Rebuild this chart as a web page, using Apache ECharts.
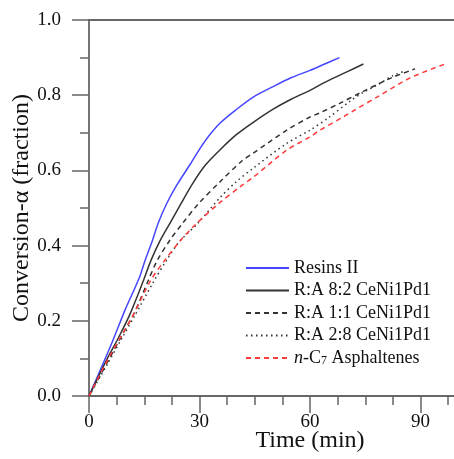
<!DOCTYPE html>
<html>
<head>
<meta charset="utf-8">
<script src="https://cdn.jsdelivr.net/npm/echarts@6/dist/echarts.min.js"></script>
<style>
html,body{margin:0;padding:0;background:#fff;}
#chart{width:454px;height:459px;}
</style>
</head>
<body>
<div id="chart"></div>
<script>
// ---- data ----
const seriesNames = ['Resins II', 'R:A 8:2 CeNi1Pd1', 'R:A 1:1 CeNi1Pd1', 'R:A 2:8 CeNi1Pd1', 'n-C7 Asphaltenes'];

const timeResins = [0, 6.2, 9.8, 13.6, 15.2, 17.2, 18.8, 21, 23.9, 27.4, 29.6, 32, 35.6, 40, 44.6, 50, 55, 60, 64, 68];
const convResins = [0, 0.141, 0.229, 0.313, 0.36, 0.413, 0.46, 0.51, 0.562, 0.615, 0.65, 0.685, 0.726, 0.762, 0.795, 0.823, 0.847, 0.866, 0.883, 0.90];

const timeRA82 = [0, 5, 8, 11, 14.7, 16.8, 19.3, 22, 25, 28, 31.5, 35.6, 40, 44.6, 50, 55, 60, 64, 70, 74.5];
const convRA82 = [0, 0.1, 0.155, 0.215, 0.305, 0.36, 0.413, 0.46, 0.512, 0.563, 0.613, 0.655, 0.695, 0.728, 0.763, 0.79, 0.813, 0.834, 0.862, 0.883];

const timeRA11 = [0, 5, 10, 12.5, 16, 18.5, 22, 25.3, 29.6, 35.6, 41.5, 44.6, 53.7, 60, 62.7, 68.2, 73.6, 79, 82.5, 88.5];
const convRA11 = [0, 0.09, 0.18, 0.225, 0.305, 0.36, 0.415, 0.458, 0.51, 0.57, 0.625, 0.646, 0.707, 0.742, 0.753, 0.779, 0.806, 0.832, 0.848, 0.87];

const timeRA28 = [0, 5, 9, 12.5, 17.3, 21, 24.5, 29.6, 35.6, 40, 44.6, 53.7, 60, 65, 71, 74.4, 78.2, 82.5, 86];
const convRA28 = [0, 0.085, 0.155, 0.215, 0.3, 0.36, 0.41, 0.46, 0.528, 0.57, 0.606, 0.672, 0.707, 0.74, 0.785, 0.807, 0.827, 0.852, 0.865];

const timeC7 = [0, 5, 11.7, 16.6, 20.5, 24.7, 28.8, 35, 41.5, 44.6, 53.7, 60, 62.7, 69, 71.7, 78.2, 87.2, 96.7];
const convC7 = [0, 0.095, 0.21, 0.305, 0.36, 0.412, 0.455, 0.51, 0.56, 0.582, 0.654, 0.689, 0.707, 0.742, 0.758, 0.795, 0.846, 0.883];

const xTicks = [0, 30, 60, 90];
const yTicks = ['0.0', '0.2', '0.4', '0.6', '0.8', '1.0'];

// ---- chart ----
const pair = (t, v) => t.map((x, i) => [x, v[i]]);
const FONT = 'Liberation Serif';
const AX = '#666';

const chart = echarts.init(document.getElementById('chart'), null, {renderer: 'canvas'});

function mkLine(name, t, v, color, type) {
  return {
    name: name, type: 'line', data: pair(t, v), symbol: 'none',
    smooth: 0.3,
    xAxisIndex: 0, yAxisIndex: 0,
    lineStyle: {color: color, width: 1.5, type: type},
    itemStyle: {color: color}
  };
}

const option = {
  animation: false,
  backgroundColor: '#fff',
  grid: {left: 89, top: 20, right: -77, bottom: 63, containLabel: false, outerBoundsMode: 'none'},
  legend: {
    orient: 'vertical', left: 245, top: 258, padding: 0,
    itemWidth: 43, itemHeight: 14, itemGap: 2.5,
    data: seriesNames,
    itemStyle: {opacity: 0},
    textStyle: {
      fontFamily: FONT, fontSize: 18, color: '#111', lineHeight: 20,
      rich: {
        i: {fontFamily: FONT, fontSize: 18, fontStyle: 'italic', color: '#111'},
        s: {fontFamily: FONT, fontSize: 12, color: '#111', padding: [6, 0, 0, 0]}
      }
    },
    formatter: function (n) {
      if (n === 'n-C7 Asphaltenes') return '{i|n}-C{s|7} Asphaltenes';
      return n;
    }
  },
  xAxis: [{
    type: 'value', min: 0, max: 120, interval: 30, position: 'bottom',
    name: 'Time (min)', nameLocation: 'middle', nameGap: 33, nameMoveOverlap: false,
    nameTextStyle: {fontFamily: FONT, fontSize: 24, color: '#111'},
    axisLine: {show: true, onZero: false, lineStyle: {color: AX, width: 1.8}},
    axisTick: {show: true, inside: false, length: 17, lineStyle: {color: AX, width: 1.5}},
    minorTick: {show: true, splitNumber: 4, length: 9, lineStyle: {color: AX, width: 1.5}},
    axisLabel: {
      fontFamily: FONT, fontSize: 19, color: '#111', margin: 17, showMaxLabel: false,
      formatter: v => (xTicks.indexOf(v) >= 0 ? String(v) : '')
    },
    splitLine: {show: false}
  }, {
    type: 'value', min: 0, max: 120, position: 'top',
    axisLine: {show: true, onZero: false, lineStyle: {color: AX, width: 1.8}},
    axisTick: {show: false}, axisLabel: {show: false}, splitLine: {show: false}
  }],
  yAxis: {
    type: 'value', min: 0, max: 1, interval: 0.2,
    name: 'Conversion-α (fraction)', nameLocation: 'middle', nameGap: 55, nameMoveOverlap: false,
    nameTextStyle: {fontFamily: FONT, fontSize: 24, color: '#111'},
    axisLine: {show: true, onZero: false, lineStyle: {color: AX, width: 1.8}},
    axisTick: {show: true, inside: false, length: 17, lineStyle: {color: AX, width: 1.5}},
    minorTick: {show: true, splitNumber: 2, length: 9, lineStyle: {color: AX, width: 1.5}},
    axisLabel: {
      fontFamily: FONT, fontSize: 19, color: '#111', margin: 28,
      formatter: v => yTicks[Math.round(v / 0.2)]
    },
    splitLine: {show: false}
  },
  series: [
    mkLine(seriesNames[0], timeResins, convResins, '#4646ff', 'solid'),
    mkLine(seriesNames[1], timeRA82, convRA82, '#333333', 'solid'),
    mkLine(seriesNames[2], timeRA11, convRA11, '#333333', [5, 4]),
    mkLine(seriesNames[3], timeRA28, convRA28, '#333333', [1.5, 3.5]),
    mkLine(seriesNames[4], timeC7, convC7, '#ff3b3b', [5, 4])
  ]
};
chart.setOption(option);
</script>
</body>
</html>
